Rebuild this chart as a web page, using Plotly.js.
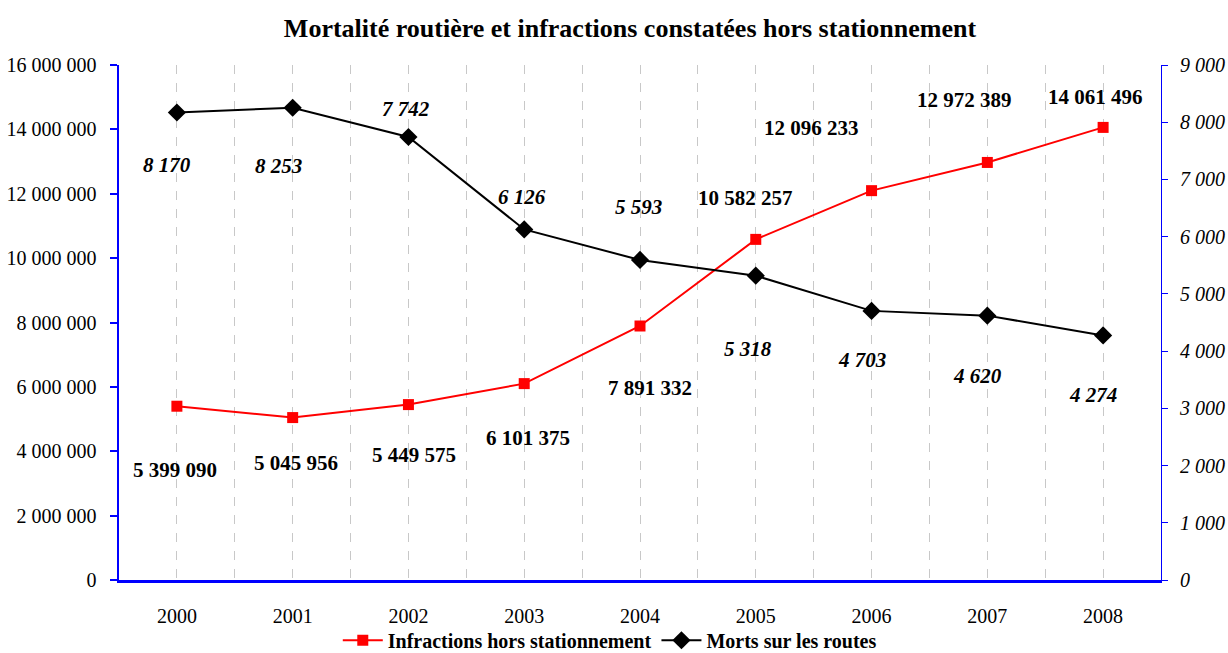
<!DOCTYPE html>
<html>
<head>
<meta charset="utf-8">
<script src="https://cdn.plot.ly/plotly-3.0.1.min.js"></script>
<style>html,body{margin:0;padding:0;background:#fff;}#chart{width:1228px;height:653px;}</style>
</head>
<body>
<div id="chart"></div>
<script>
// ---- data ----
const years = [2000, 2001, 2002, 2003, 2004, 2005, 2006, 2007, 2008];
const infractions = [5399090, 5045956, 5449575, 6101375, 7891332, 10582257, 12096233, 12972389, 14061496];
const morts = [8170, 8253, 7742, 6126, 5593, 5318, 4703, 4620, 4274];
const infractionsName = "Infractions hors stationnement";
const mortsName = "Morts sur les routes";
const chartTitle = "Mortalité routière et infractions constatées hors stationnement";

// ---- label offsets (pixels, +right / +down) ----
const infrDx = [-2, 3, 6, 4, 10, -10, -60, -23, -8];
const infrDy = [64, 45, 50, 54, 62, -41, -63, -62, -30];
const mortsDx = [-10, -14, -2, -2, -2, -8, -10, -10, -10];
const mortsDy = [53, 58, -28, -32, -53, 73, 49, 60, 60];

function fmt(n) {
  return String(n).replace(/\B(?=(\d{3})+(?!\d))/g, " ");
}

const serif = "Liberation Serif, Times New Roman, serif";
const blue = "#0000ff";
const grid = "#c8c8c8";

const traces = [
  {
    x: years, y: infractions, name: infractionsName, type: "scatter", mode: "lines+markers",
    line: {color: "#ff0000", width: 2},
    marker: {symbol: "square", size: 11, color: "#ff0000"},
    yaxis: "y"
  },
  {
    x: years, y: morts, name: mortsName, type: "scatter", mode: "lines+markers",
    line: {color: "#000000", width: 2},
    marker: {symbol: "diamond", size: 14, color: "#000000"},
    yaxis: "y2"
  }
];

const annotations = [];
years.forEach((yr, i) => {
  annotations.push({
    x: yr, y: infractions[i], xref: "x", yref: "y", text: fmt(infractions[i]),
    showarrow: false, xshift: infrDx[i], yshift: -infrDy[i],
    font: {family: serif, size: 21, color: "#000", weight: "bold"}
  });
  annotations.push({
    x: yr, y: morts[i], xref: "x", yref: "y2", text: fmt(morts[i]),
    showarrow: false, xshift: mortsDx[i], yshift: -mortsDy[i],
    font: {family: serif, size: 21, color: "#000", weight: "bold", style: "italic"}
  });
});

const layout = {
  width: 1228, height: 653,
  paper_bgcolor: "#fff", plot_bgcolor: "#fff",
  separators: ", ",
  font: {family: serif, size: 20, color: "#000"},
  margin: {l: 119, r: 67, t: 65, b: 73, pad: 0, autoexpand: false},
  title: {
    text: chartTitle, font: {family: serif, size: 26, weight: "bold", color: "#000"},
    xref: "container", x: 0.513, xanchor: "center",
    yref: "container", y: 0.957, yanchor: "middle"
  },
  xaxis: {
    range: [1999.5, 2008.5], tickvals: years, ticktext: years.map(String),
    showgrid: true, gridcolor: grid, griddash: "dash", gridwidth: 1,
    minor: {tick0: 1999.5, dtick: 1, showgrid: true, gridcolor: grid, griddash: "dash", gridwidth: 1, ticks: ""},
    showline: true, linecolor: blue, linewidth: 2.5,
    ticks: "", ticklabelstandoff: 16,
    zeroline: false, fixedrange: true,
    tickfont: {family: serif, size: 20, color: "#000"}
  },
  yaxis: {
    range: [0, 16000000], dtick: 2000000, tickformat: ",d",
    showgrid: false, zeroline: false,
    showline: true, linecolor: blue, linewidth: 2.5,
    ticks: "outside", ticklen: 7, tickcolor: blue, tickwidth: 2,
    ticklabelstandoff: 9,
    tickfont: {family: serif, size: 20, color: "#000"}
  },
  yaxis2: {
    range: [0, 9000], dtick: 1000, tickformat: ",d",
    overlaying: "y", side: "right",
    showgrid: false, zeroline: false,
    showline: true, linecolor: blue, linewidth: 1,
    ticks: "outside", ticklen: 6, tickcolor: blue, tickwidth: 1,
    ticklabelstandoff: 8,
    tickfont: {family: serif, size: 20, color: "#000", style: "italic"}
  },
  yaxis3: {
    range: [0, 9000], dtick: 1000,
    overlaying: "y", side: "right",
    showgrid: false, zeroline: false, showline: false,
    ticks: "inside", ticklen: 6, tickcolor: blue, tickwidth: 1,
    showticklabels: false
  },
  showlegend: true,
  legend: {
    orientation: "h", xref: "paper", x: 0.471, xanchor: "center",
    yref: "paper", y: -0.117, yanchor: "middle",
    font: {family: serif, size: 20, weight: "bold", color: "#000"},
    itemwidth: 40, tracegroupgap: 0, bgcolor: "rgba(0,0,0,0)"
  },
  annotations: annotations
};

Plotly.newPlot("chart", traces, layout, {displayModeBar: false, staticPlot: true});
</script>
</body>
</html>
